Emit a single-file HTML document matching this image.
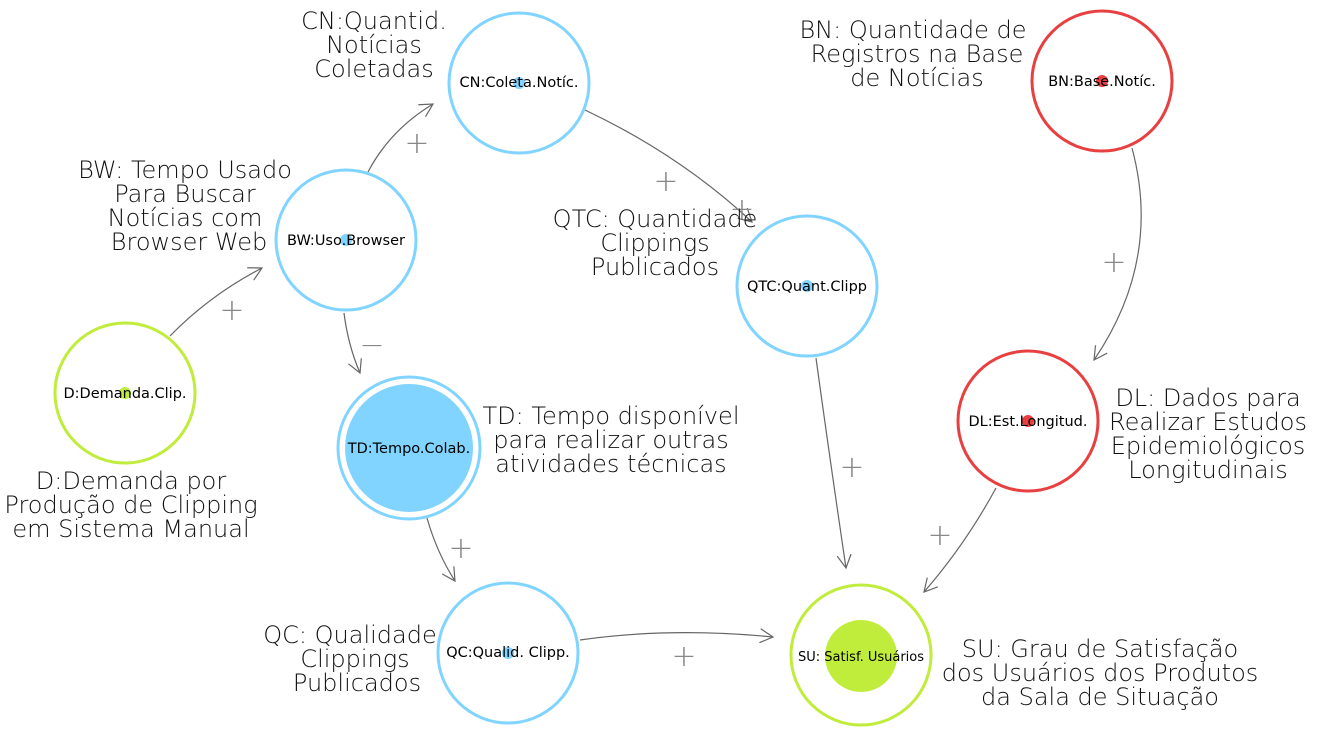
<!DOCTYPE html>
<html><head><meta charset="utf-8"><style>
html,body{margin:0;padding:0;background:#fff;width:1332px;height:739px;overflow:hidden}
svg{display:block}
.big{font-family:"DejaVu Sans","Liberation Sans",sans-serif;font-weight:300;font-size:24px;fill:#111;text-anchor:middle}
.sm{font-family:"DejaVu Sans","Liberation Sans",sans-serif;font-size:14.5px;fill:#000;text-anchor:middle}
.pl{font-family:"DejaVu Sans","Liberation Sans",sans-serif;font-weight:200;font-size:30px;fill:#888;text-anchor:middle}
.e{fill:none;stroke:#666;stroke-width:1.2}
</style></head><body>
<svg width="1332" height="739" viewBox="0 0 1332 739" xmlns="http://www.w3.org/2000/svg">
<defs>
<marker id="a" markerWidth="20" markerHeight="20" refX="14" refY="8" orient="auto" markerUnits="userSpaceOnUse">
<path d="M1,1 L14,8 L1,15" fill="none" stroke="#666" stroke-width="1.2"/>
</marker>
</defs>
<path class="e" d="M170,336 Q210,295 262,268" marker-end="url(#a)"/>
<path class="e" d="M368,172 Q390,130 433,104" marker-end="url(#a)"/>
<path class="e" d="M585,110 Q680,155 752,222" marker-end="url(#a)"/>
<path class="e" d="M344,313 Q348,345 360,373" marker-end="url(#a)"/>
<path class="e" d="M427,518 Q437,553 455,581" marker-end="url(#a)"/>
<path class="e" d="M580,640 Q670,627 773,637" marker-end="url(#a)"/>
<path class="e" d="M816,358 Q830,460 846,568" marker-end="url(#a)"/>
<path class="e" d="M1132,148 Q1162,260 1094,360" marker-end="url(#a)"/>
<path class="e" d="M996,488 Q965,545 924,592" marker-end="url(#a)"/>
<text class="pl" x="232" y="320">+</text>
<text class="pl" x="417" y="153">+</text>
<text class="pl" x="666" y="191">+</text>
<text class="pl" x="742" y="219">+</text>
<text class="pl" x="372" y="355">−</text>
<text class="pl" x="461" y="558">+</text>
<text class="pl" x="684" y="666">+</text>
<text class="pl" x="852" y="477">+</text>
<text class="pl" x="1114" y="272">+</text>
<text class="pl" x="940" y="545">+</text>
<g stroke-width="3" fill="#fff">
<circle cx="519" cy="83" r="70" stroke="#80d4ff"/>
<circle cx="1102" cy="81" r="70" stroke="#e84040"/>
<circle cx="346" cy="240" r="70" stroke="#80d4ff"/>
<circle cx="807" cy="286" r="70" stroke="#80d4ff"/>
<circle cx="125" cy="393" r="70" stroke="#c0ec3c"/>
<circle cx="409" cy="448" r="71" stroke="#80d4ff"/>
<circle cx="1028" cy="421" r="70" stroke="#e84040"/>
<circle cx="508" cy="653" r="70" stroke="#80d4ff"/>
<circle cx="861" cy="655" r="70" stroke="#c0ec3c"/>
</g>
<circle cx="409" cy="448" r="64" fill="#80d4ff"/>
<circle cx="861" cy="656" r="36" fill="#c0ec3c"/>
<circle cx="519" cy="83" r="6" fill="#80d4ff"/>
<circle cx="1102" cy="81" r="6" fill="#e84040"/>
<circle cx="346" cy="240" r="6" fill="#80d4ff"/>
<circle cx="807" cy="286" r="6" fill="#80d4ff"/>
<circle cx="125" cy="393" r="6" fill="#c0ec3c"/>
<circle cx="1028" cy="421" r="6" fill="#e84040"/>
<circle cx="508" cy="653" r="6" fill="#80d4ff"/>
<text class="sm" x="519" y="87">CN:Coleta.Notíc.</text>
<text class="sm" x="1102" y="86">BN:Base.Notíc.</text>
<text class="sm" x="346" y="245">BW:Uso.Browser</text>
<text class="sm" x="807" y="291">QTC:Quant.Clipp</text>
<text class="sm" x="125" y="398">D:Demanda.Clip.</text>
<text class="sm" x="409" y="453">TD:Tempo.Colab.</text>
<text class="sm" x="1028" y="426">DL:Est.Longitud.</text>
<text class="sm" x="508" y="657">QC:Qualid. Clipp.</text>
<text class="sm" x="861" y="661" style="font-size:13px">SU: Satisf. Usuários</text>
<text class="big" x="374" y="29">CN:Quantid.</text>
<text class="big" x="374" y="53">Notícias</text>
<text class="big" x="374" y="77">Coletadas</text>
<text class="big" x="913" y="38">BN: Quantidade de</text>
<text class="big" x="917" y="62">Registros na Base</text>
<text class="big" x="917" y="86">de Notícias</text>
<text class="big" x="185" y="178">BW: Tempo Usado</text>
<text class="big" x="185" y="202">Para Buscar</text>
<text class="big" x="185" y="226">Notícias com</text>
<text class="big" x="189" y="250">Browser Web</text>
<text class="big" x="655" y="227">QTC: Quantidade</text>
<text class="big" x="655" y="251">Clippings</text>
<text class="big" x="655" y="275">Publicados</text>
<text class="big" x="1208" y="406">DL: Dados para</text>
<text class="big" x="1208" y="430">Realizar Estudos</text>
<text class="big" x="1208" y="454">Epidemiológicos</text>
<text class="big" x="1208" y="478">Longitudinais</text>
<text class="big" x="611" y="424">TD: Tempo disponível</text>
<text class="big" x="611" y="448">para realizar outras</text>
<text class="big" x="611" y="472">atividades técnicas</text>
<text class="big" x="131" y="489">D:Demanda por</text>
<text class="big" x="131" y="513">Produção de Clipping</text>
<text class="big" x="131" y="537">em Sistema Manual</text>
<text class="big" x="350" y="643">QC: Qualidade</text>
<text class="big" x="355" y="667">Clippings</text>
<text class="big" x="357" y="691">Publicados</text>
<text class="big" x="1100" y="657">SU: Grau de Satisfação</text>
<text class="big" x="1100" y="681">dos Usuários dos Produtos</text>
<text class="big" x="1100" y="705">da Sala de Situação</text>
</svg>
</body></html>
